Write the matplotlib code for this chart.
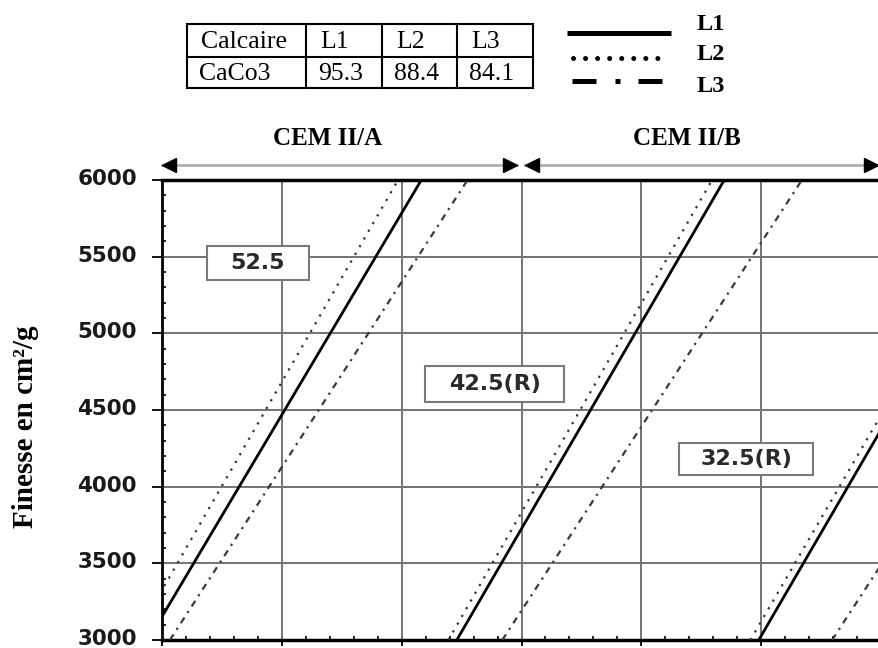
import matplotlib.pyplot as plt
from matplotlib.patches import Rectangle
from matplotlib.ticker import MultipleLocator
from matplotlib.transforms import blended_transform_factory, ScaledTranslation

# finesse range over which each curve is read (cm2/g)
finesse_ends = [3000, 6000]
# abscissa of each curve at finesse 3000 and 6000, one pair per class
grades = ['52.5', '42.5(R)', '32.5(R)']
l1_x = [[4.42, 15.82], [17.3, 28.46], [29.9, 41.06]]
l2_x = [[3.8, 14.85], [16.95, 27.95], [29.55, 40.7]]
l3_x = [[5.33, 17.75], [19.2, 31.7], [32.96, 45.46]]

# limestone table
calc_names = ['L1', 'L2', 'L3']
caco3 = [95.3, 88.4, 84.1]

cem_names = ['CEM II/A', 'CEM II/B']
cem_span = [[5, 20], [20, 35]]

y_ticks = [3000, 3500, 4000, 4500, 5000, 5500, 6000]
x_grid = [5, 10, 15, 20, 25, 30, 35]

W, H = 879, 648
fig = plt.figure(figsize=(W / 100, H / 100), dpi=100)
ax = fig.add_axes([162 / W, 8 / H, 719 / W, 460 / H])

serif = 'Liberation Serif'

# curves
for i in range(len(grades)):
    ax.plot(l1_x[i], finesse_ends, color='black', lw=2.0, zorder=3)
    ax.plot(l2_x[i], finesse_ends, color='#333333', lw=1.6,
            linestyle=(0, (1.0, 3.0)), zorder=3)
    ax.plot(l3_x[i], finesse_ends, color='#3a3a3a', lw=1.6,
            linestyle=(0, (3.0, 2.5, 1.0, 2.5)), zorder=3)

# class labels in boxes
box_pos = [(9.0, 5459, 4.25, 222), (18.875, 4670, 5.83, 235), (29.375, 4180, 5.59, 209)]
for g, (cx, cy, bw, bh) in zip(grades, box_pos):
    ax.add_patch(Rectangle((cx - bw / 2, cy - bh / 2), bw, bh, fc='white',
                           ec='#7a7a7a', lw=1.5, zorder=4))
    ax.text(cx, cy, g, ha='center', va='center', fontsize=16,
            fontweight='bold', color='#2a2a2a', zorder=5)

ax.set_xlim(x_grid[0], x_grid[-1])
ax.set_ylim(y_ticks[0], y_ticks[-1])
ax.set_xticks(x_grid)
ax.set_xticklabels([])
ax.set_yticks(y_ticks)
ax.yaxis.set_minor_locator(MultipleLocator(100))
ax.xaxis.set_minor_locator(MultipleLocator(1))
ax.grid(True, color='#747474', lw=1.4)
ax.set_axisbelow(True)

ax.tick_params(axis='y', which='major', direction='out', length=7, width=1.3,
               pad=11, labelsize=15.5, labelcolor='#1a1a1a')
ax.tick_params(axis='y', which='minor', direction='in', length=3, width=1.2)
ax.tick_params(axis='x', which='major', direction='out', length=4, width=1.3)
ax.tick_params(axis='x', which='minor', direction='in', length=3, width=1.2)
up = ScaledTranslation(0, 3 / 100, fig.dpi_scale_trans)
for lab in ax.get_yticklabels():
    lab.set_fontweight('bold')
    lab.set_transform(lab.get_transform() + up)

ax.spines['left'].set_linewidth(2)
ax.spines['top'].set_linewidth(2.5)
ax.spines['bottom'].set_linewidth(2.5)
ax.spines['right'].set_linewidth(2.5)

fig.text(26 / W, 1 - 427 / H, 'Finesse en cm²/g', rotation=90, ha='center',
         va='center', fontsize=21, fontweight='bold', family=serif)

# CEM ranges above the plot
tr = blended_transform_factory(ax.transData, fig.transFigure)
arrow_y = 1 - 165 / H
for name, (a, b) in zip(cem_names, cem_span):
    x0 = a + (0.15 if a > cem_span[0][0] else 0)
    x1 = b - (0.2 if b < cem_span[-1][1] else 0.1)
    ax.plot([x0, x1], [arrow_y, arrow_y], transform=tr, color='#b0b0b0',
            lw=2, clip_on=False)
    ax.plot([x0 + 0.3], [arrow_y], transform=tr, marker='<', ms=10,
            color='black', clip_on=False)
    ax.plot([x1 - 0.3], [arrow_y], transform=tr, marker='>', ms=10,
            color='black', clip_on=False)
    ax.text((a + b) / 2 - 0.6, 1 - 139 / H, name, transform=tr, ha='center',
            va='center', fontsize=18, fontweight='bold', family=serif)

# overlay in pixel units for the table and the legend
ov = fig.add_axes([0, 0, 1, 1])
ov.set_xlim(0, W)
ov.set_ylim(H, 0)
ov.axis('off')
ov.patch.set_visible(False)

col_edges = [187, 306, 382, 457, 533]
row_edges = [24, 57, 88]
for x in col_edges:
    ov.plot([x, x], [row_edges[0], row_edges[-1]], color='black', lw=1.5)
for y in row_edges:
    ov.plot([col_edges[0], col_edges[-1]], [y, y], color='black', lw=1.5)
row1 = ['Calcaire'] + calc_names
row2 = ['CaCo3'] + [str(v) for v in caco3]
for j in range(len(row1)):
    ov.text(col_edges[j] + 14, (row_edges[0] + row_edges[1]) / 2 + 1, row1[j],
            ha='left', va='center', fontsize=18.5, family=serif)
    ov.text(col_edges[j] + 12, (row_edges[1] + row_edges[2]) / 2 + 1, row2[j],
            ha='left', va='center', fontsize=18.5, family=serif)

# legend
ov.plot([567, 671], [33, 33], color='black', lw=3.6, solid_capstyle='butt')
ov.plot([573, 664], [58, 58], color='black', lw=3.6,
        linestyle=(0, (0.01, 2.4)), dash_capstyle='round')
ov.plot([572, 662], [81, 81], color='black', lw=3.6,
        linestyle=(0, (4.8, 3.8, 1.0, 3.6)), dash_capstyle='butt')
for k, yy in enumerate([25, 55, 86]):
    ov.text(697, yy, calc_names[k], ha='left', va='center', fontsize=17.5,
            fontweight='bold', family=serif)

fig.savefig('out.png', dpi=100)
